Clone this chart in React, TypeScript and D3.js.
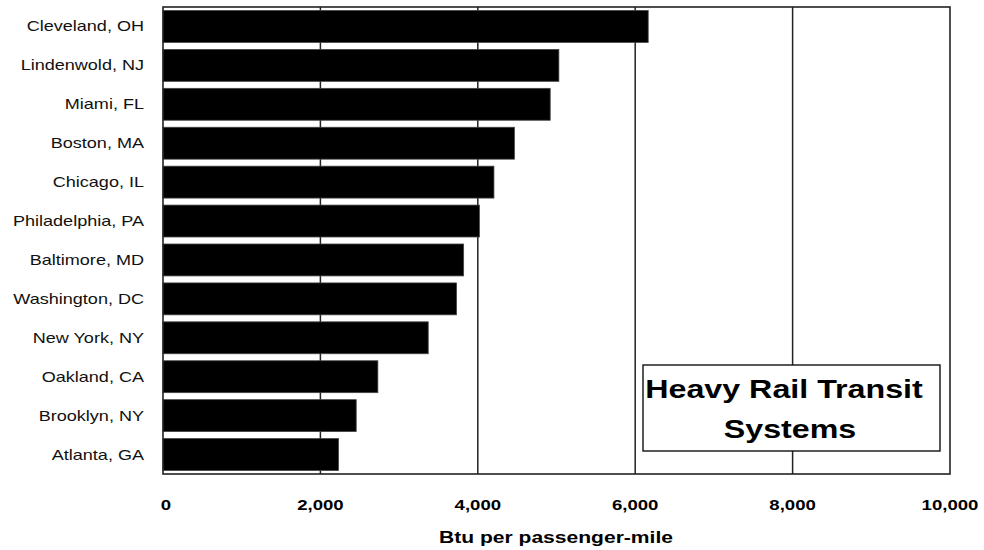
import React from "react";
import * as d3 from "d3";

const cities = [
  "Cleveland, OH",
  "Lindenwold, NJ",
  "Miami, FL",
  "Boston, MA",
  "Chicago, IL",
  "Philadelphia, PA",
  "Baltimore, MD",
  "Washington, DC",
  "New York, NY",
  "Oakland, CA",
  "Brooklyn, NY",
  "Atlanta, GA",
];
const btuValues = [6165, 5030, 4920, 4465, 4205, 4020, 3820, 3730, 3370, 2730, 2455, 2230];
const tickValues = [0, 2000, 4000, 6000, 8000, 10000];
const gridValues = [2000, 4000, 6000, 8000];
const axisTitle = "Btu per passenger-mile";
const legendLines = ["Heavy Rail Transit", "Systems"];

const W = 984;
const H = 550;
const plot = { left: 163, right: 950, top: 7, bottom: 474 };
const SX = 1.24;
const FONT = "'Liberation Sans', Arial, Helvetica, sans-serif";

export default function App() {
  const x = d3.scaleLinear().domain([0, 10000]).range([plot.left, plot.right]);
  const y = d3
    .scaleBand<string>()
    .domain(cities)
    .range([plot.top, plot.bottom])
    .paddingInner(0.18)
    .paddingOuter(0.09);
  const fmt = d3.format(",");
  const legendX = [784, 790];

  return (
    <svg
      width={W}
      height={H}
      style={{ position: "absolute", left: 0, top: 0, background: "#fff" }}
      fontFamily={FONT}
    >
      <rect x={0} y={0} width={W} height={H} fill="#fff" />
      {/* gridlines */}
      {gridValues.map((v) => (
        <line
          key={v}
          x1={x(v)}
          x2={x(v)}
          y1={plot.top}
          y2={plot.bottom}
          stroke="#222"
          strokeWidth={1.5}
        />
      ))}
      {/* bars */}
      {cities.map((c, i) => (
        <rect
          key={c}
          x={x(0)}
          y={y(c)}
          width={x(btuValues[i]) - x(0)}
          height={y.bandwidth()}
          fill="#000"
          stroke="#444"
          strokeWidth={0.8}
        />
      ))}
      {/* frame */}
      <rect
        x={plot.left}
        y={plot.top}
        width={plot.right - plot.left}
        height={plot.bottom - plot.top}
        fill="none"
        stroke="#222"
        strokeWidth={1.6}
      />
      {/* category labels */}
      {cities.map((c) => (
        <text
          key={c}
          transform={`translate(144,${(y(c) as number) + y.bandwidth() / 2 + 5}) scale(1.29,1)`}
          textAnchor="end"
          fontSize={14}
          fill="#111"
        >
          {c}
        </text>
      ))}
      {/* tick labels */}
      {tickValues.map((v) => (
        <text
          key={v}
          transform={`translate(${x(v) + (v === 0 ? 3 : 0)},509.5) scale(${SX},1)`}
          textAnchor="middle"
          fontSize={15}
          fontWeight="bold"
          fill="#000"
        >
          {fmt(v)}
        </text>
      ))}
      {/* axis title */}
      <text
        transform={`translate(556,542.5) scale(${SX},1)`}
        textAnchor="middle"
        fontSize={17}
        fontWeight="bold"
        fill="#000"
      >
        {axisTitle}
      </text>
      {/* legend box */}
      <rect x={643} y={365} width={297} height={86} fill="#fff" stroke="#111" strokeWidth={1.4} />
      {legendLines.map((t, i) => (
        <text
          key={t}
          transform={`translate(${legendX[i]},${397.5 + i * 40}) scale(${SX},1)`}
          textAnchor="middle"
          fontSize={26}
          fontWeight="bold"
          fill="#000"
        >
          {t}
        </text>
      ))}
    </svg>
  );
}
